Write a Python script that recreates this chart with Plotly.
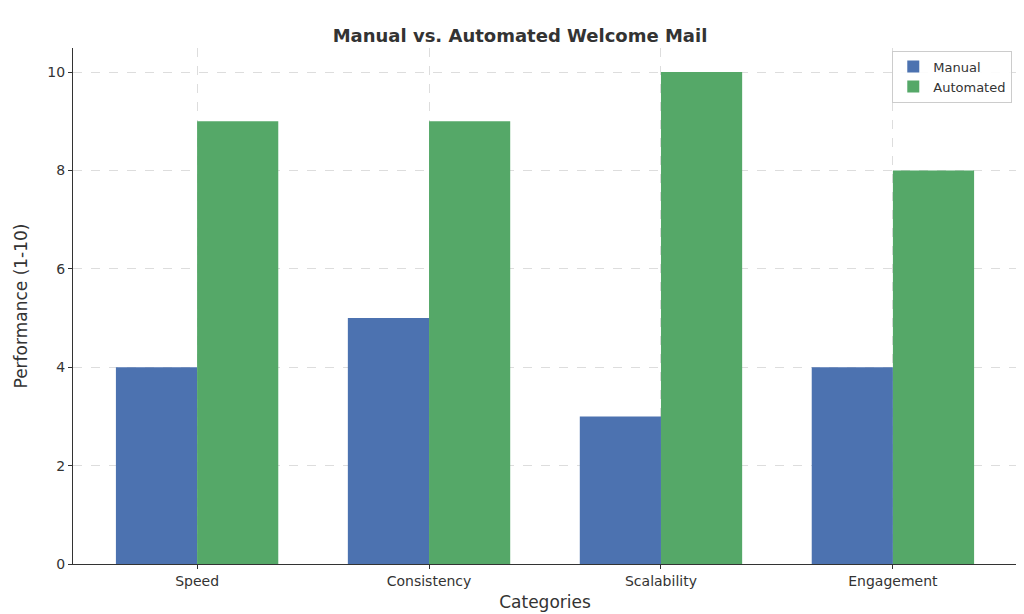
import plotly.graph_objects as go

categories = ["Speed", "Consistency", "Scalability", "Engagement"]
manual = [4, 5, 3, 4]
automated = [9, 9, 10, 8]

fig = go.Figure()
fig.add_bar(x=categories, y=manual, name="Manual", marker=dict(color="#4c72b0", line=dict(width=0)))
fig.add_bar(x=categories, y=automated, name="Automated", marker=dict(color="#55a868", line=dict(width=0)))

fig.update_layout(
    width=1024, height=614,
    paper_bgcolor="white", plot_bgcolor="white",
    font=dict(family="DejaVu Sans", color="#333333", size=14),
    title=dict(text="<b>Manual vs. Automated Welcome Mail</b>", x=0.5, xanchor="center", y=0.965, font=dict(size=18)),
    margin=dict(l=65, r=15, t=40, b=58),
    barmode="group", bargap=0.3, bargroupgap=0,
    legend=dict(x=0.995, y=0.995, xanchor="right", yanchor="top", bordercolor="#cccccc", borderwidth=1,
                bgcolor="rgba(255,255,255,0.9)", font=dict(size=13)),
    xaxis=dict(range=[-0.535, 3.535], title=dict(text="Categories", standoff=8), showgrid=True,
               gridcolor="#dddddd", griddash="dash", showline=True, linecolor="#333333",
               ticks="outside", ticklen=4, tickcolor="#333333"),
    yaxis=dict(range=[0, 10.49], title=dict(text="Performance (1-10)"), dtick=2, showgrid=True,
               gridcolor="#dddddd", griddash="dash", showline=True, linecolor="#333333",
               ticks="outside", ticklen=4, tickcolor="#333333", zeroline=False),
)
fig.write_html("out.html")
